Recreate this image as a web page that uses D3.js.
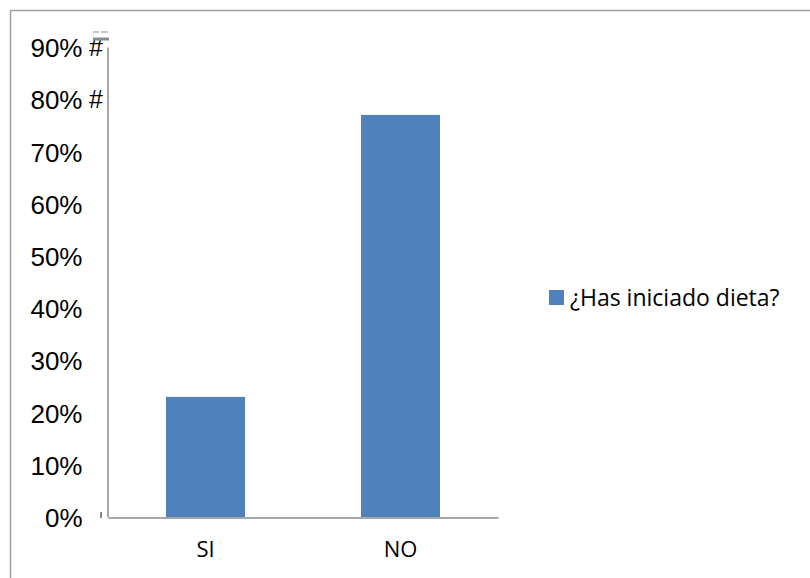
<!DOCTYPE html>
<html>
<head>
<meta charset="utf-8">
<script src="https://cdn.jsdelivr.net/npm/d3@7"></script>
<style>
  html, body { margin: 0; padding: 0; background: #fff; }
  svg { display: block; }
</style>
</head>
<body>
<svg id="chart" width="810" height="578"></svg>
<script>
const categories = ["SI", "NO"];
const values = [0.23, 0.77];
const seriesName = "¿Has iniciado dieta?";
const yTicks = [0, 0.1, 0.2, 0.3, 0.4, 0.5, 0.6, 0.7, 0.8, 0.9];

const svg = d3.select("#chart");

// outer frame (extends beyond the viewport at right and bottom)
svg.append("rect")
  .attr("x", 10.5).attr("y", 10.5)
  .attr("width", 820).attr("height", 600)
  .attr("fill", "none").attr("stroke", "#a0a0a0").attr("stroke-width", 1.5);

const y = d3.scaleLinear().domain([0, 0.9]).range([517, 47]);
const x = d3.scaleBand().domain(categories).range([108, 498])
  .paddingInner(0.595).paddingOuter(0.2975);

// bars
svg.selectAll("rect.bar").data(values).enter().append("rect")
  .attr("class", "bar")
  .attr("x", (d, i) => x(categories[i]))
  .attr("width", x.bandwidth())
  .attr("y", d => y(d))
  .attr("height", d => y(0) - y(d))
  .attr("fill", "#4F81BD");

// y axis
const yAxis = d3.axisLeft(y).tickValues(yTicks).tickSize(0).tickPadding(25)
  .tickFormat(d3.format(".0%"));
const gy = svg.append("g").attr("transform", "translate(107.5,0)").call(yAxis);
gy.select(".domain").attr("stroke", "#8a8a8a").attr("stroke-width", 1.5);
gy.selectAll("text")
  .attr("font-family", "Liberation Sans, Arial, sans-serif")
  .attr("font-size", 26).attr("fill", "#000").attr("dy", "0.37em");

// x axis
const xAxis = d3.axisBottom(x).tickSize(0).tickPadding(24);
const gx = svg.append("g").attr("transform", "translate(0,517.5)").call(xAxis);
gx.select(".domain").attr("stroke", "#8a8a8a").attr("stroke-width", 1.5);
gx.selectAll("text")
  .attr("font-family", "Open Sans, sans-serif")
  .attr("font-size", 22).attr("fill", "#000");

// small artifacts near the axis
svg.append("text").attr("x", 89).attr("y", y(0.9) + 9)
  .attr("font-family", "Liberation Sans, Arial, sans-serif").attr("font-size", 25).text("#");
svg.append("text").attr("x", 89).attr("y", y(0.8) + 9)
  .attr("font-family", "Liberation Sans, Arial, sans-serif").attr("font-size", 25).text("#");
svg.append("line").attr("x1", 93).attr("x2", 99).attr("y1", 32).attr("y2", 32)
  .attr("stroke", "#b0b0b0").attr("stroke-width", 1.5);
svg.append("line").attr("x1", 101).attr("x2", 108).attr("y1", 32).attr("y2", 32)
  .attr("stroke", "#b0b0b0").attr("stroke-width", 1.5);
svg.append("line").attr("x1", 93).attr("x2", 109).attr("y1", 39).attr("y2", 39)
  .attr("stroke", "#8a8a8a").attr("stroke-width", 3);
svg.append("line").attr("x1", 101).attr("x2", 101).attr("y1", 512).attr("y2", 518)
  .attr("stroke", "#8a8a8a").attr("stroke-width", 2);

// legend
const lg = svg.append("g").attr("transform", "translate(549,290)");
lg.append("rect").attr("width", 15).attr("height", 15).attr("fill", "#4F81BD");
lg.append("text").attr("x", 21).attr("y", 16)
  .attr("font-family", "Open Sans, sans-serif").attr("font-size", 23).attr("fill", "#000")
  .text(seriesName);
</script>
</body>
</html>
